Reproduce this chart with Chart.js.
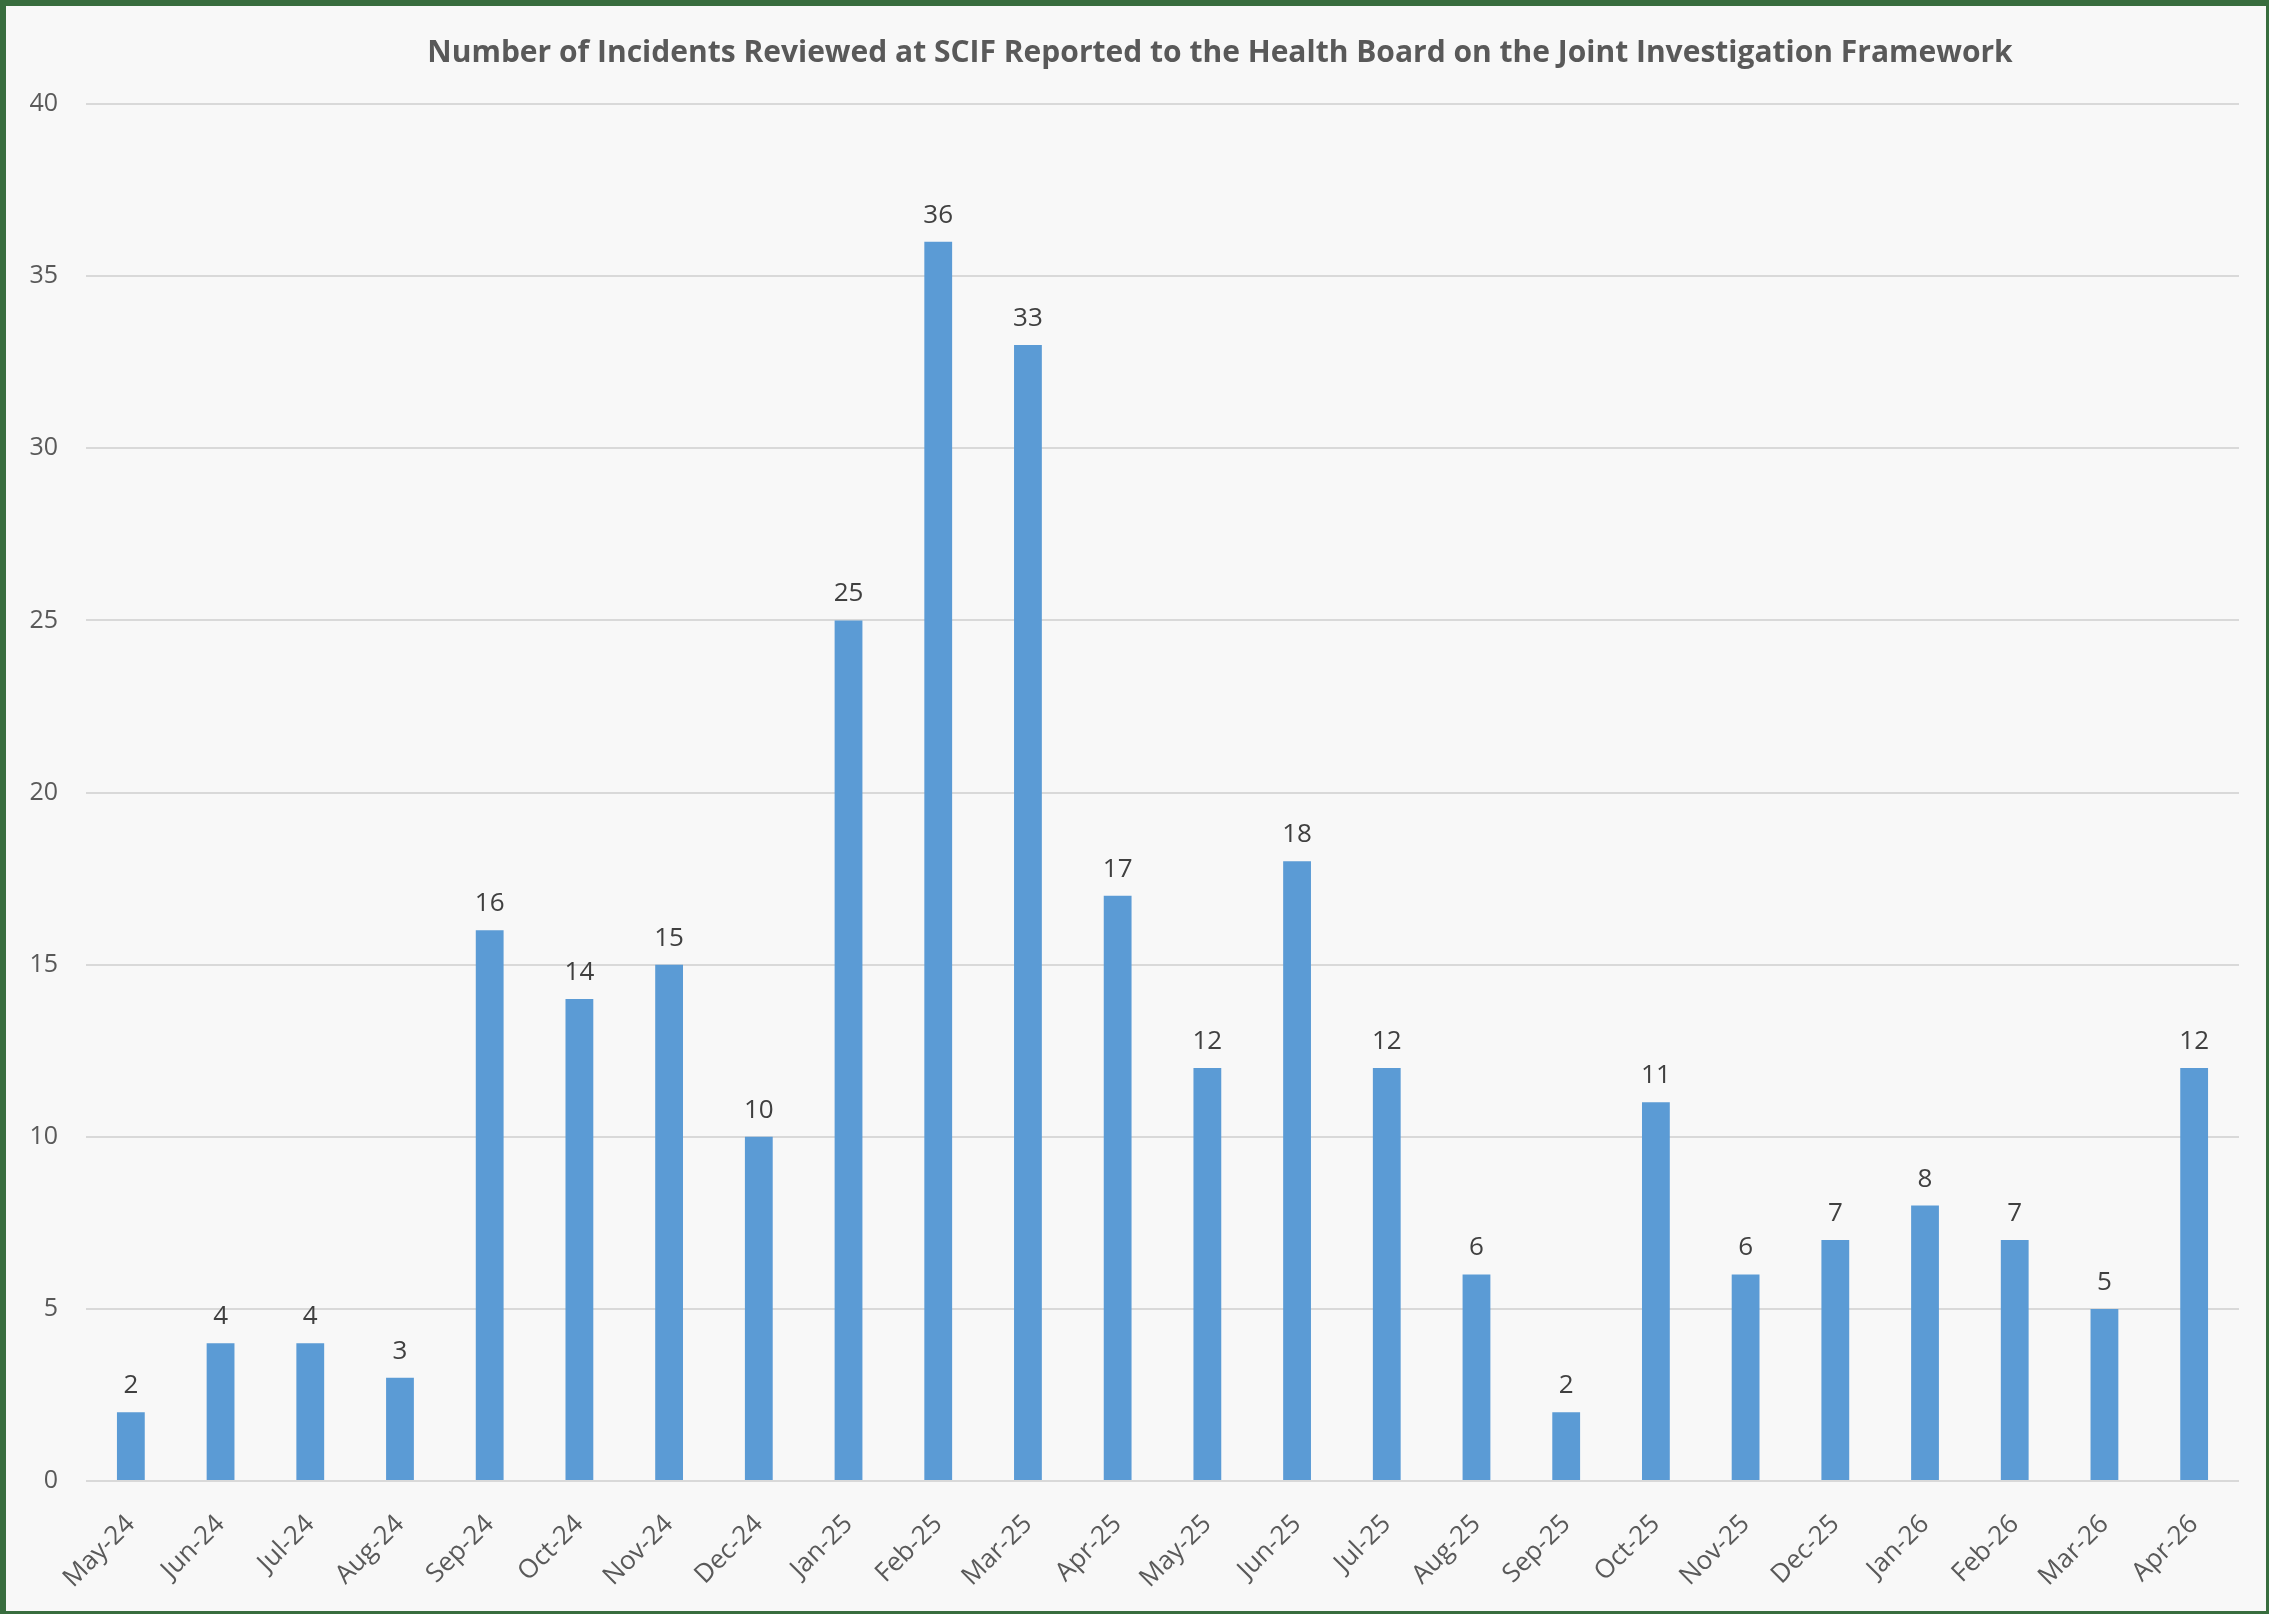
<!DOCTYPE html>
<html>
<head>
<meta charset="utf-8">
<script src="https://cdn.jsdelivr.net/npm/chart.js@4.4.1/dist/chart.umd.min.js"></script>
<style>
    html, body { margin: 0; padding: 0; background: #f8f8f8; }
    #marco {
        width: 2260px; height: 1605px;
        border-style: solid; border-color: #386d3e;
        border-width: 6px 3px 3px 6px;
        background: #f8f8f8;
    }
</style>
</head>
<body>
<div id="marco"><canvas id="grafica" width="2260" height="1605"></canvas></div>
<script>
const titulo = 'Number of Incidents Reviewed at SCIF Reported to the Health Board on the Joint Investigation Framework';
const meses = ['May-24', 'Jun-24', 'Jul-24', 'Aug-24', 'Sep-24', 'Oct-24', 'Nov-24', 'Dec-24',
    'Jan-25', 'Feb-25', 'Mar-25', 'Apr-25', 'May-25', 'Jun-25', 'Jul-25', 'Aug-25',
    'Sep-25', 'Oct-25', 'Nov-25', 'Dec-25', 'Jan-26', 'Feb-26', 'Mar-26', 'Apr-26'];
const incidentes = [2, 4, 4, 3, 16, 14, 15, 10, 25, 36, 33, 17, 12, 18, 12, 6, 2, 11, 6, 7, 8, 7, 5, 12];
const ticksY = [0, 5, 10, 15, 20, 25, 30, 35, 40];

const FUENTE = "'Open Sans', 'Noto Sans', sans-serif";

// titulo dibujado a mano (Excel lo deja algo a la derecha del centro)
const pluginTitulo = {
    id: 'tituloExcel',
    afterDraw(chart) {
        const ctx = chart.ctx;
        ctx.save();
        ctx.font = `bold 30px ${FUENTE}`;
        ctx.fillStyle = '#595959';
        ctx.textAlign = 'center';
        ctx.textBaseline = 'middle';
        ctx.fillText(titulo, 1214, 47);
        ctx.restore();
    }
};

// etiquetas de valor encima de cada barra
const pluginEtiquetas = {
    id: 'etiquetasValor',
    afterDatasetsDraw(chart) {
        const ctx = chart.ctx;
        ctx.save();
        ctx.font = `26px ${FUENTE}`;
        ctx.fillStyle = '#404040';
        ctx.textAlign = 'center';
        ctx.textBaseline = 'alphabetic';
        chart.getDatasetMeta(0).data.forEach((barra, i) => {
            ctx.fillText(String(incidentes[i]), barra.x, barra.y - 19);
        });
        ctx.restore();
    }
};

new Chart(document.getElementById('grafica'), {
    type: 'bar',
    data: {
        labels: meses,
        datasets: [{
            data: incidentes,
            backgroundColor: '#5b9bd5',
            borderWidth: 0,
            categoryPercentage: 1,
            barPercentage: 0.31
        }]
    },
    options: {
        responsive: false,
        animation: false,
        layout: { padding: { top: 98, right: 27, left: 0, bottom: 0 } },
        plugins: { legend: { display: false }, title: { display: false }, tooltip: { enabled: false } },
        scales: {
            x: {
                grid: { display: false },
                border: { display: false },
                ticks: {
                    color: '#595959', font: { family: FUENTE, size: 26 },
                    maxRotation: 45, minRotation: 45, padding: 20, autoSkip: false
                },
                afterFit: s => { s.height = 130; }
            },
            y: {
                min: 0, max: 40,
                afterBuildTicks: s => { s.ticks = ticksY.map(v => ({ value: v })); },
                grid: { color: '#d9d9d9', lineWidth: 2, drawTicks: false },
                border: { display: false },
                ticks: { color: '#595959', font: { family: FUENTE, size: 25 }, padding: 28 },
                afterFit: s => { s.width = 80; }
            }
        }
    },
    plugins: [pluginTitulo, pluginEtiquetas]
});
</script>
</body>
</html>
